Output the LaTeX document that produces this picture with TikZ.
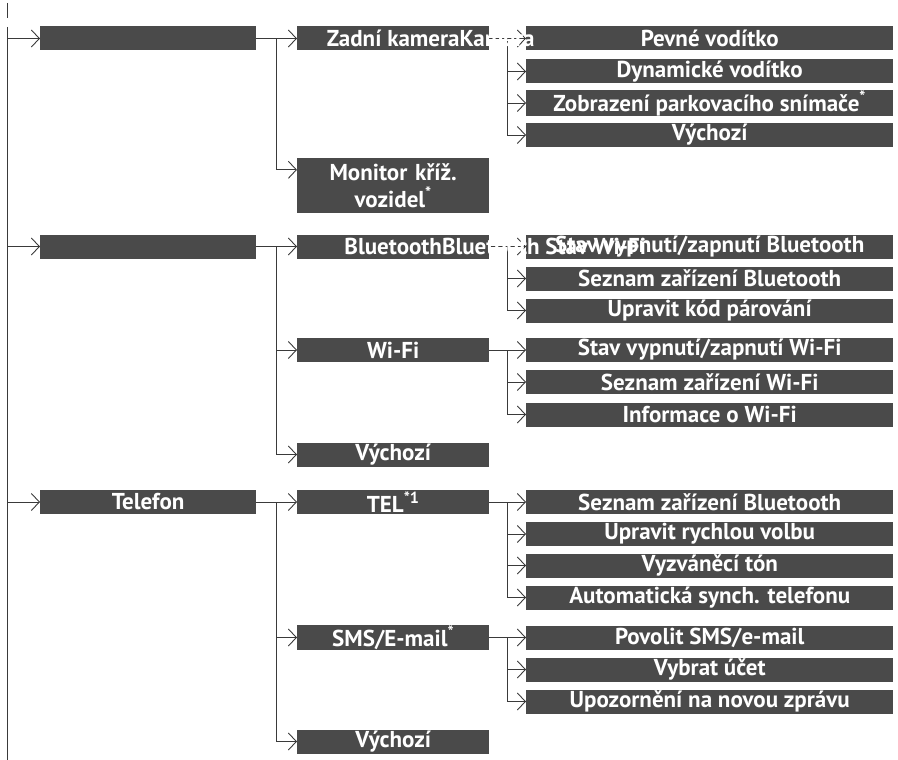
\documentclass[tikz,border=0pt]{standalone}
\usepackage{fontspec}
\setmainfont{PT Sans}
\usetikzlibrary{calc,arrows.meta,positioning,backgrounds}
\definecolor{boxgray}{HTML}{4A4A4A}
\definecolor{linegray}{HTML}{3A3A3A}

\begin{document}
\begin{tikzpicture}[x=1pt,y=-1pt,
  menu/.style={fill=boxgray,text=white,font=\bfseries\fontsize{23}{27}\selectfont,anchor=west,inner sep=0pt,minimum height=24pt},
  lvone/.style={menu,minimum width=216pt},
  lvtwo/.style={menu,minimum width=192pt},
  lvthree/.style={menu,minimum width=367pt},
  link/.style={draw=linegray,line width=0.9pt,-{Straight Barb[length=8pt,width=17pt]}}]
\useasboundingbox (0,0) rectangle (898,760);
% third level
\node[lvthree] (pev) at (526,38.5) {Pevné vodítko};
\node[lvthree] (dyn) at (526,71.5) {Dynamické vodítko};
\node[lvthree] (zob) at (526,103) {Zobrazení parkovacího snímače\textsuperscript{*}};
\node[lvthree] (vy1) at (526,135) {Výchozí};
\node[lvthree] (stb) at (526,246.5) {Stav vypnutí/zapnutí Bluetooth};
\node[lvthree] (szb) at (526,278.5) {Seznam zařízení Bluetooth};
\node[lvthree] (upk) at (526,310.5) {Upravit kód párování};
\node[lvthree] (stw) at (526,350) {Stav vypnutí/zapnutí Wi-Fi};
\node[lvthree] (szw) at (526,382) {Seznam zařízení Wi-Fi};
\node[lvthree] (inw) at (526,414.5) {Informace o Wi-Fi};
\node[lvthree] (szt) at (526,502) {Seznam zařízení Bluetooth};
\node[lvthree] (urv) at (526,534) {Upravit rychlou volbu};
\node[lvthree] (vyt) at (526,565.5) {Vyzváněcí tón};
\node[lvthree] (ast) at (526,597.5) {Automatická synch. telefonu};
\node[lvthree] (pse) at (526,637.5) {Povolit SMS/e-mail};
\node[lvthree] (vbu) at (526,669.5) {Vybrat účet};
\node[lvthree] (unz) at (526,701.5) {Upozornění na novou zprávu};
% second level
\node[lvtwo] (kam) at (297,38.5) {Zadní kamera\rlap{Kamera}};
\node[lvtwo,minimum height=55pt,text width=192pt,align=center] (mon) at (297,185.5) {Monitor kříž.\\vozidel\textsuperscript{*}};
\node[lvtwo] (blu) at (297,246.5) {Bluetooth\rlap{Bluetooth Stav Wi-Fi}};
\node[lvtwo] (wif) at (297,350) {Wi-Fi};
\node[lvtwo] (vy2) at (297,454.5) {Výchozí};
\node[lvtwo] (tel) at (297,502) {TEL\textsuperscript{*1}};
\node[lvtwo] (sms) at (297,637.5) {SMS/E-mail\textsuperscript{*}};
\node[lvtwo] (vy3) at (297,741.5) {Výchozí};
% first level
\node[lvone] (cam) at (40,38.5) {};
\node[lvone] (con) at (40,246.5) {};
\node[lvone] (pho) at (40,502) {Telefon};
\coordinate (railtop) at (7,27);
\coordinate (railend) at (7,760);

\begin{pgfonlayer}{background}
\draw[linegray,line width=0.9pt] (7,3) -- (7,18);
\draw[linegray,line width=0.9pt] (railtop) -- (railend);
\foreach \n in {cam,con,pho}
  \draw[link] (railtop |- \n.west) -- (\n.west);
% first to second level
\draw[link] (cam.east) -- (kam.west);
\draw[link] ($(cam.east)!.5!(kam.west)$) |- ($(mon.north west)+(0,12)$);
\draw[link] (con.east) -- (blu.west);
\foreach \n in {wif,vy2}
  \draw[link] ($(con.east)!.5!(blu.west)$) |- (\n.west);
\draw[link] (pho.east) -- (tel.west);
\foreach \n in {sms,vy3}
  \draw[link] ($(pho.east)!.5!(tel.west)$) |- (\n.west);
% second to third level
\draw[link] (kam.east) -- (pev.west);
\foreach \n in {dyn,zob,vy1}
  \draw[link] ($(kam.east)!.5!(pev.west)$) |- (\n.west);
\draw[link] (blu.east) -- (stb.west);
\foreach \n in {szb,upk}
  \draw[link] ($(blu.east)!.5!(stb.west)$) |- (\n.west);
\draw[link] (wif.east) -- (stw.west);
\foreach \n in {szw,inw}
  \draw[link] ($(wif.east)!.5!(stw.west)$) |- (\n.west);
\draw[link] (tel.east) -- (szt.west);
\foreach \n in {urv,vyt,ast}
  \draw[link] ($(tel.east)!.5!(szt.west)$) |- (\n.west);
\draw[link] (sms.east) -- (pse.west);
\foreach \n in {vbu,unz}
  \draw[link] ($(sms.east)!.5!(pse.west)$) |- (\n.west);
\end{pgfonlayer}
\end{tikzpicture}
\end{document}
